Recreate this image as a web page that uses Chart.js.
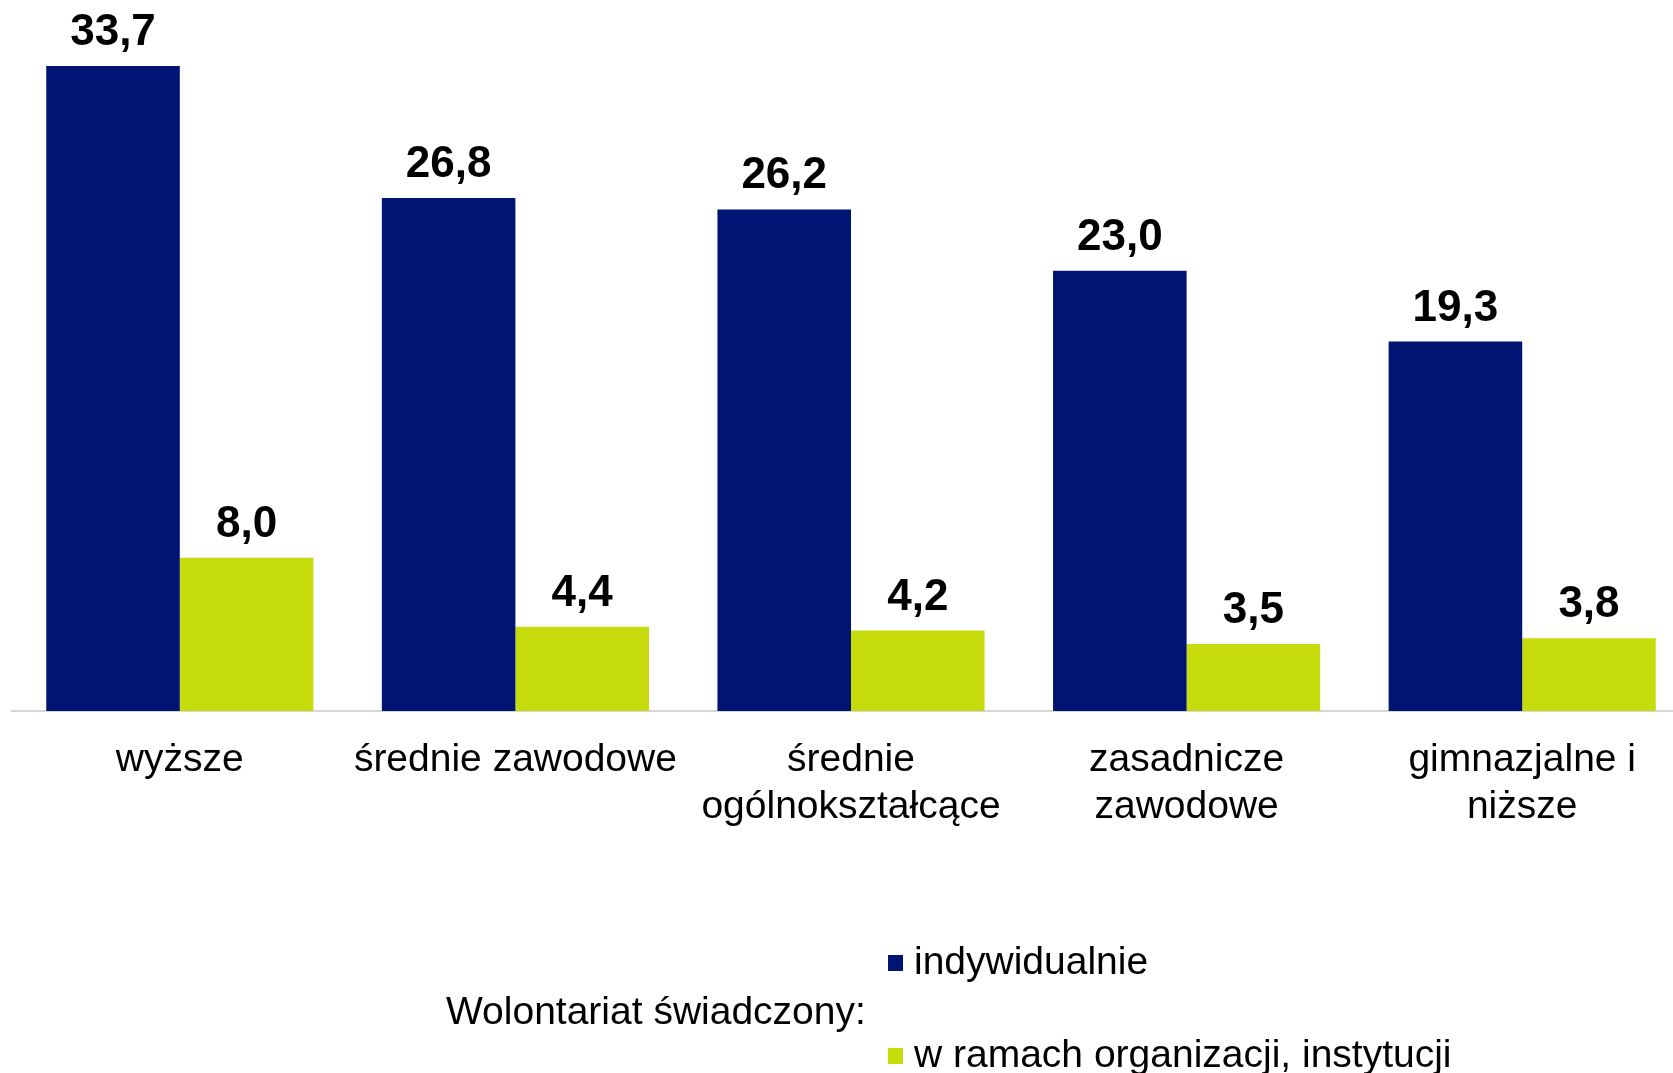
<!DOCTYPE html>
<html>
<head>
<meta charset="utf-8">
<script src="https://cdn.jsdelivr.net/npm/chart.js@4"></script>
<style>
  body { margin: 0; background: #fff; overflow: hidden; }
  #wrap { width: 1690px; height: 1073px; position: relative; }
</style>
</head>
<body>
<div id="wrap"><canvas id="myChart"></canvas></div>
<script>
const categories = ['wyższe', 'średnie zawodowe', ['średnie', 'ogólnokształcące'], ['zasadnicze', 'zawodowe'], ['gimnazjalne i', 'niższe']]
const individual = [33.7, 26.8, 26.2, 23.0, 19.3]
const organised = [8.0, 4.4, 4.2, 3.5, 3.8]
const legendTitle = 'Wolontariat świadczony:'

const FONT = "'Liberation Sans', Arial, sans-serif"
Chart.defaults.color = '#000'
Chart.defaults.font.family = FONT

const fmt = v => v.toFixed(1).replace('.', ',')

// numbers above the bars
const valueLabels = {
    id: 'valueLabels',
    afterDatasetsDraw(chart) {
        const ctx = chart.ctx
        ctx.save()
        ctx.font = 'bold 44px ' + FONT
        ctx.fillStyle = '#000'
        ctx.textAlign = 'center'
        ctx.textBaseline = 'alphabetic'
        chart.data.datasets.forEach((ds, i) => {
            chart.getDatasetMeta(i).data.forEach((bar, j) => {
                ctx.fillText(fmt(ds.data[j]), bar.x, bar.y - 21)
            })
        })
        ctx.restore()
    }
}

// legend: title on the left, items stacked on the right
const sideLegend = {
    id: 'sideLegend',
    afterDraw(chart) {
        const ctx = chart.ctx
        ctx.save()
        ctx.font = '39px ' + FONT
        ctx.fillStyle = '#000'
        ctx.textBaseline = 'middle'
        ctx.textAlign = 'left'
        ctx.fillText(legendTitle, 446, 1013)
        const rows = [963, 1056]
        chart.data.datasets.forEach((ds, i) => {
            ctx.fillStyle = ds.backgroundColor
            ctx.fillRect(888, rows[i] - 8, 15, 16)
            ctx.fillStyle = '#000'
            ctx.fillText(ds.label, 914, rows[i])
        })
        ctx.restore()
    }
}

new Chart(document.getElementById('myChart'), {
    type: 'bar',
    data: {
        labels: categories,
        datasets: [
            { label: 'indywidualnie', data: individual, backgroundColor: '#001473' },
            { label: 'w ramach organizacji, instytucji', data: organised, backgroundColor: '#c6dc0c' }
        ]
    },
    options: {
        responsive: true,
        maintainAspectRatio: false,
        animation: false,
        layout: { padding: { top: 41, left: 12, right: 0, bottom: 0 } },
        datasets: {
            bar: { categoryPercentage: 0.796, barPercentage: 1.0 }
        },
        scales: {
            x: {
                grid: { display: false, drawTicks: false },
                border: { display: true, color: '#d6d6d6', width: 2 },
                ticks: { font: { size: 39 }, padding: 26, maxRotation: 0, autoSkip: false },
                afterFit: s => { s.height = 362 }
            },
            y: {
                display: false,
                min: 0,
                max: 35
            }
        },
        plugins: {
            legend: { display: false },
            tooltip: { enabled: false }
        }
    },
    plugins: [valueLabels, sideLegend]
})
</script>
</body>
</html>
